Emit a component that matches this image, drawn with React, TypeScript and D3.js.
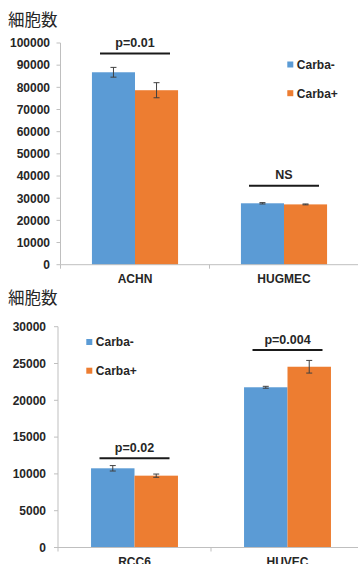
import React from "react";
import * as d3 from "d3";

const seriesNames = ["Carba-", "Carba+"];
const seriesColors = ["#5b9bd5", "#ed7d31"];

// Top chart
const topCategories = ["ACHN", "HUGMEC"];
const topCarbaMinus = [86800, 27700];
const topCarbaPlus = [78700, 27200];
const topErrMinus = [2200, 300];
const topErrPlus = [3400, 200];
const topSigLabels = ["p=0.01", "NS"];
const topSigLevels = [95300, 35600];
const topTicks = [0, 10000, 20000, 30000, 40000, 50000, 60000, 70000, 80000, 90000, 100000];

// Bottom chart
const botCategories = ["RCC6", "HUVEC"];
const botCarbaMinus = [10760, 21770];
const botCarbaPlus = [9760, 24560];
const botErrMinus = [370, 130];
const botErrPlus = [220, 860];
const botSigLabels = ["p=0.02", "p=0.004"];
const botSigLevels = [12120, 26830];
const botTicks = [0, 5000, 10000, 15000, 20000, 25000, 30000];

const yTitle = "細胞数";

const FONT = "'Liberation Sans', Arial, sans-serif";
const TEXT = "#262626";
const AXIS = "#bfbfbf";

type PanelProps = {
  categories: string[];
  minus: number[];
  plus: number[];
  errMinus: number[];
  errPlus: number[];
  sigLabels: string[];
  sigLevels: number[];
  ticks: number[];
  yMax: number;
  axisX: number;
  xEnd: number;
  yTop: number;
  yBottom: number;
  groupPad: number;
  titleY: number;
  labelRight: number;
  legendX: number;
  legendY: number;
};

function Panel(p: PanelProps) {
  const y = d3.scaleLinear().domain([0, p.yMax]).range([p.yBottom, p.yTop]);
  const x0 = d3.scaleBand<string>().domain(p.categories).range([p.axisX, p.xEnd]).paddingInner(0).paddingOuter(0);
  const x1 = d3
    .scaleBand<string>()
    .domain(seriesNames)
    .range([0, x0.bandwidth()])
    .paddingInner(0)
    .paddingOuter(p.groupPad);
  const values = [p.minus, p.plus];
  const errs = [p.errMinus, p.errPlus];
  const bw = x1.bandwidth();
  const boundaries = [p.axisX, ...p.categories.map((c) => (x0(c) as number) + x0.bandwidth())];

  return (
    <g>
      <text x={8} y={p.titleY} fontFamily="'Noto Sans CJK JP', sans-serif" fontSize={16.5} fill={TEXT}>
        {yTitle}
      </text>
      {/* y axis */}
      <line x1={p.axisX} x2={p.axisX} y1={p.yTop} y2={p.yBottom} stroke={AXIS} strokeWidth={1} />
      {p.ticks.map((t) => (
        <g key={t}>
          <line x1={p.axisX - 4} x2={p.axisX} y1={y(t)} y2={y(t)} stroke={AXIS} strokeWidth={1} />
          <text
            x={p.labelRight}
            y={y(t)}
            dy="0.36em"
            textAnchor="end"
            fontFamily={FONT}
            fontWeight="bold"
            fontSize={12}
            fill={TEXT}
          >
            {t}
          </text>
        </g>
      ))}
      {/* bars */}
      {p.categories.map((c, i) => (
        <g key={c}>
          {seriesNames.map((s, j) => {
            const bx = (x0(c) as number) + (x1(s) as number);
            const v = values[j][i];
            const e = errs[j][i];
            const cx = bx + bw / 2;
            return (
              <g key={s}>
                <rect x={bx} y={y(v)} width={bw} height={p.yBottom - y(v)} fill={seriesColors[j]} />
                <line x1={cx} x2={cx} y1={y(v + e)} y2={y(v - e)} stroke="#404040" strokeWidth={1} />
                <line x1={cx - 3} x2={cx + 3} y1={y(v + e)} y2={y(v + e)} stroke="#404040" strokeWidth={1} />
                <line x1={cx - 3} x2={cx + 3} y1={y(v - e)} y2={y(v - e)} stroke="#404040" strokeWidth={1} />
              </g>
            );
          })}
          {(() => {
            const gc = (x0(c) as number) + x0.bandwidth() / 2;
            const sy = y(p.sigLevels[i]);
            return (
              <g>
                <line x1={gc - 35} x2={gc + 35} y1={sy} y2={sy} stroke="#1a1a1a" strokeWidth={2} />
                <text
                  x={gc}
                  y={sy - 6.5}
                  textAnchor="middle"
                  fontFamily={FONT}
                  fontWeight="bold"
                  fontSize={12.5}
                  fill={TEXT}
                >
                  {p.sigLabels[i]}
                </text>
              </g>
            );
          })()}
          <text
            x={(x0(c) as number) + x0.bandwidth() / 2}
            y={p.yBottom + 18.6}
            textAnchor="middle"
            fontFamily={FONT}
            fontWeight="bold"
            fontSize={12}
            fill={TEXT}
          >
            {c}
          </text>
        </g>
      ))}
      {/* x axis */}
      <line x1={p.axisX} x2={p.xEnd} y1={p.yBottom} y2={p.yBottom} stroke={AXIS} strokeWidth={1} />
      {boundaries.map((bx, k) => (
        <line key={k} x1={bx} x2={bx} y1={p.yBottom} y2={p.yBottom + 4} stroke={AXIS} strokeWidth={1} />
      ))}
      {/* legend */}
      {seriesNames.map((s, j) => (
        <g key={s}>
          <rect x={p.legendX} y={p.legendY + j * 28.7 - 3} width={6} height={6} fill={seriesColors[j]} />
          <text
            x={p.legendX + 9.5}
            y={p.legendY + j * 28.7}
            dy="0.36em"
            fontFamily={FONT}
            fontWeight="bold"
            fontSize={12}
            fill={TEXT}
          >
            {s}
          </text>
        </g>
      ))}
    </g>
  );
}

export default function App() {
  return (
    <div style={{ position: "absolute", left: 0, top: 0 }}>
      <svg width={358} height={564} style={{ display: "block", background: "#fff" }}>
        <Panel
          categories={topCategories}
          minus={topCarbaMinus}
          plus={topCarbaPlus}
          errMinus={topErrMinus}
          errPlus={topErrPlus}
          sigLabels={topSigLabels}
          sigLevels={topSigLevels}
          ticks={topTicks}
          yMax={100000}
          axisX={60.5}
          xEnd={358.5}
          yTop={43}
          yBottom={264.7}
          groupPad={0.73}
          titleY={25.5}
          labelRight={50}
          legendX={287.3}
          legendY={64.5}
        />
        <Panel
          categories={botCategories}
          minus={botCarbaMinus}
          plus={botCarbaPlus}
          errMinus={botErrMinus}
          errPlus={botErrPlus}
          sigLabels={botSigLabels}
          sigLevels={botSigLevels}
          ticks={botTicks}
          yMax={30000}
          axisX={58}
          xEnd={364}
          yTop={326.7}
          yBottom={547.5}
          groupPad={0.76}
          titleY={304}
          labelRight={46}
          legendX={86.3}
          legendY={342}
        />
      </svg>
    </div>
  );
}
